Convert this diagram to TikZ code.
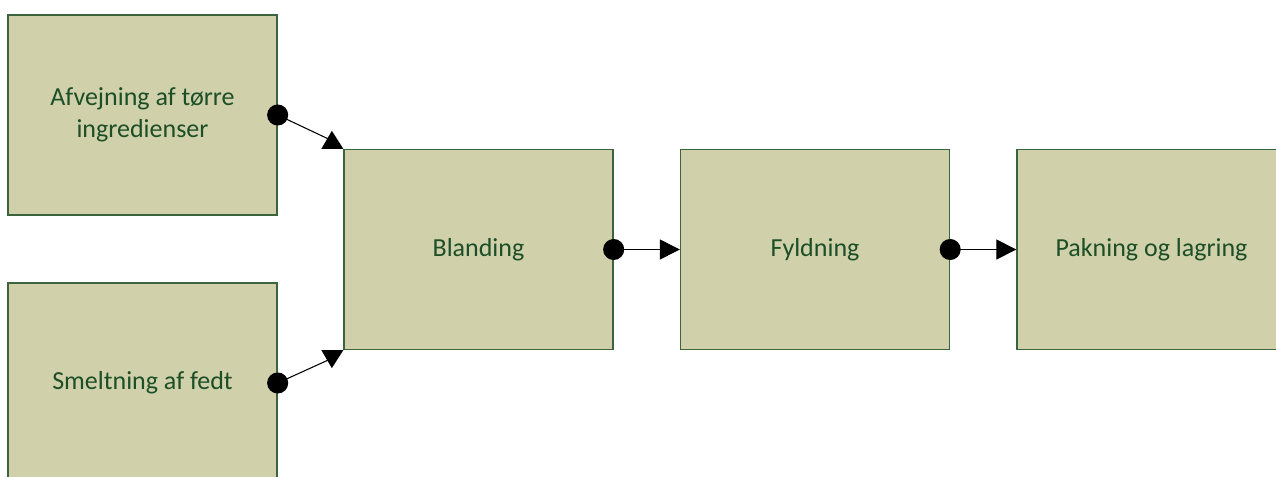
\documentclass[tikz,border=0pt]{standalone}
\usepackage{fontspec}
\setmainfont{Carlito}
\usetikzlibrary{arrows.meta,calc}
\definecolor{boxfill}{RGB}{208,209,170}
\definecolor{boxline}{RGB}{60,100,60}
\definecolor{boxtext}{RGB}{28,78,40}

\begin{document}
\begin{tikzpicture}[x=0.75pt,y=-0.75pt,>={Triangle[length=15pt,width=15pt]},
    process/.style={draw=boxline, fill=boxfill, text=boxtext, line width=1pt,
        minimum width=201.75pt, minimum height=150pt, inner sep=0pt,
        align=center, font=\fontsize{19.5}{24}\selectfont},
    flow/.style={line width=0.8pt},
    dot/.style={fill=black}]
    \useasboundingbox (0,0) rectangle (1276,477);
    \clip (0,0) rectangle (1276,477);

    % process steps
    \node[process] (dry)  at (142.5,115)   {Afvejning af tørre\\ingredienser};
    \node[process] (fat)  at (142.5,383)   {Smeltning af fedt};
    \node[process] (mix)  at (478.5,249.5) {Blanding};
    \node[process] (fill) at (815,249.5)   {Fyldning};
    \node[process] (pack) at (1151.5,249.5) {Pakning og lagring};

    % feeds into the mixer
    \draw[flow] (dry.east) -- ($(mix.north west)+(-11,-8)$);
    \draw[flow] (fat.east) -- ($(mix.south west)+(-11,8)$);
    \fill ($(mix.north west)+(-22,0)$) -- (mix.north west) -- ++(-11.5,-18) -- cycle;
    \fill ($(mix.south west)+(-22,0)$) -- (mix.south west) -- ++(-11.5,18) -- cycle;

    % main line
    \draw[flow,->] (mix.east) -- (fill.west);
    \draw[flow,->] (fill.east) -- (pack.west);

    \foreach \n in {dry,fat,mix,fill}
        \fill[dot] (\n.east) circle (7.9pt);
\end{tikzpicture}
\end{document}
